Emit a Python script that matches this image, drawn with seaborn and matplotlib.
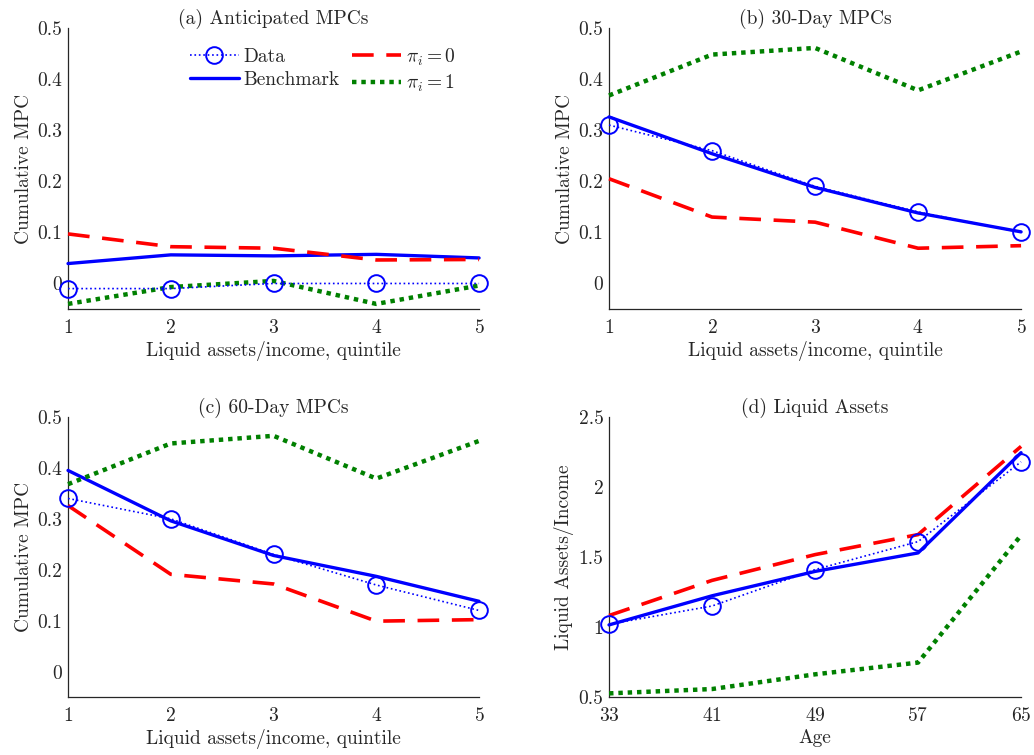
import numpy as np
import pandas as pd
import matplotlib
matplotlib.use("Agg")
import matplotlib.pyplot as plt
import seaborn as sns

sns.set_style("white")
plt.rcParams["font.family"] = ["cmr10", "DejaVu Serif"]
plt.rcParams["mathtext.fontset"] = "cm"
plt.rcParams["axes.formatter.use_mathtext"] = True

# --- data ---
quintile = [1, 2, 3, 4, 5]
age = [33, 41, 49, 57, 65]

ant_data = [-0.01, -0.01, 0.0, 0.0, 0.0]
ant_bench = [0.039, 0.056, 0.054, 0.057, 0.050]
ant_pi0 = [0.097, 0.072, 0.069, 0.046, 0.047]
ant_pi1 = [-0.040, -0.007, 0.005, -0.040, -0.004]

d30_data = [0.31, 0.26, 0.19, 0.14, 0.10]
d30_bench = [0.326, 0.254, 0.188, 0.138, 0.101]
d30_pi0 = [0.205, 0.130, 0.120, 0.069, 0.074]
d30_pi1 = [0.368, 0.448, 0.461, 0.378, 0.454]

d60_data = [0.34, 0.30, 0.23, 0.17, 0.12]
d60_bench = [0.395, 0.296, 0.228, 0.187, 0.138]
d60_pi0 = [0.326, 0.191, 0.172, 0.099, 0.102]
d60_pi1 = [0.368, 0.448, 0.463, 0.379, 0.453]

la_data = [1.02, 1.15, 1.41, 1.61, 2.18]
la_bench = [1.015, 1.223, 1.397, 1.529, 2.245]
la_pi0 = [1.082, 1.333, 1.517, 1.660, 2.290]
la_pi1 = [0.526, 0.557, 0.662, 0.746, 1.655]

labels = ["Data", "Benchmark", r"$\pi_i = 0$", r"$\pi_i = 1$"]

fig = plt.figure(figsize=(10.34, 7.55), dpi=100)
positions = [
    [0.0658, 0.5907, 0.3975, 0.3722],
    [0.589, 0.5907, 0.3985, 0.3722],
    [0.0658, 0.0768, 0.3975, 0.3709],
    [0.589, 0.0768, 0.3985, 0.3709],
]

panels = [
    ("(a) Anticipated MPCs", quintile, [ant_data, ant_bench, ant_pi0, ant_pi1]),
    ("(b) 30-Day MPCs", quintile, [d30_data, d30_bench, d30_pi0, d30_pi1]),
    ("(c) 60-Day MPCs", quintile, [d60_data, d60_bench, d60_pi0, d60_pi1]),
    ("(d) Liquid Assets", age, [la_data, la_bench, la_pi0, la_pi1]),
]

fs = 14
axis_col = "#262626"

for i, (title, x, series) in enumerate(panels):
    ax = fig.add_axes(positions[i])
    data, bench, pi0, pi1 = series
    sns.lineplot(x=x, y=bench, ax=ax, color="blue", linestyle="-", linewidth=2.4,
                 label=labels[1], clip_on=False, zorder=3)
    sns.lineplot(x=x, y=pi0, ax=ax, color="red", linewidth=2.6, label=labels[2],
                 clip_on=False, zorder=3)
    ax.lines[-1].set_dashes([6, 3.5])
    sns.lineplot(x=x, y=pi1, ax=ax, color="green", linewidth=3.2, label=labels[3],
                 clip_on=False, zorder=3)
    ax.lines[-1].set_dashes([1, 1.1])
    sns.lineplot(x=x, y=data, ax=ax, color="blue", linestyle=":", linewidth=1.2,
                 marker="o", markersize=12, markerfacecolor="none",
                 markeredgecolor="blue", markeredgewidth=1.4, label=labels[0],
                 clip_on=False, zorder=4)

    ax.set_title(title, fontsize=fs, pad=3)
    ax.set_xlim(x[0], x[-1])
    ax.set_xticks(x)
    if i < 3:
        ax.set_ylim(-0.05, 0.5)
        ax.set_yticks([0, 0.1, 0.2, 0.3, 0.4, 0.5])
        ax.set_yticklabels(["0", "0.1", "0.2", "0.3", "0.4", "0.5"])
        ax.set_xlabel("Liquid assets/income, quintile", fontsize=fs, labelpad=3)
        ax.set_ylabel("Cumulative MPC", fontsize=fs, labelpad=3)
    else:
        ax.set_ylim(0.5, 2.5)
        ax.set_yticks([0.5, 1, 1.5, 2, 2.5])
        ax.set_yticklabels(["0.5", "1", "1.5", "2", "2.5"])
        ax.set_xlabel("Age", fontsize=fs, labelpad=3)
        ax.set_ylabel("Liquid Assets/Income", fontsize=fs, labelpad=3)

    for s in ["top", "right"]:
        ax.spines[s].set_visible(False)
    for s in ["left", "bottom"]:
        ax.spines[s].set_color(axis_col)
        ax.spines[s].set_linewidth(0.9)
    ax.tick_params(direction="in", length=4, width=0.8, colors=axis_col,
                   labelsize=fs, labelcolor=axis_col)
    ax.tick_params(axis="x", pad=7)
    ax.tick_params(axis="y", pad=4)
    ax.xaxis.label.set_color(axis_col)
    ax.yaxis.label.set_color(axis_col)

    if i == 0:
        handles, labs = ax.get_legend_handles_labels()
        order = [3, 0, 1, 2]
        ax.legend([handles[k] for k in order], [labs[k] for k in order], ncol=2,
                  frameon=False, fontsize=fs, loc="upper left",
                  bbox_to_anchor=(0.297, 0.935), borderaxespad=0, borderpad=0,
                  handlelength=2.5, columnspacing=0.65, handletextpad=0.25,
                  labelspacing=0.25)
    else:
        ax.get_legend().remove()

fig.savefig("out.png", dpi=100)
